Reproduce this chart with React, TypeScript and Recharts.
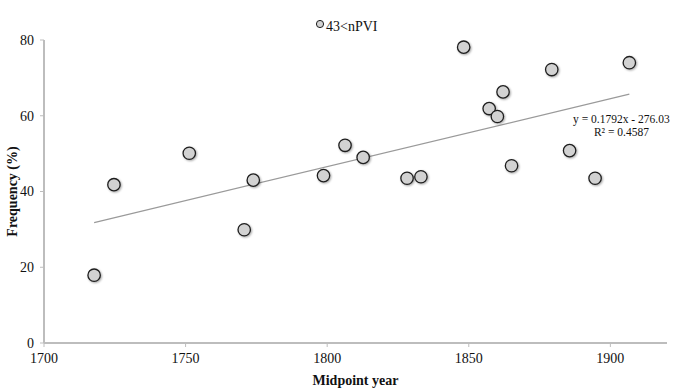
import { ScatterChart, Scatter, XAxis, YAxis, Legend, ReferenceDot, Label } from 'recharts'

// midpoint years and frequencies
const years = [
  1717.7, 1724.7, 1751.3, 1770.7, 1773.9, 1798.7, 1806.3, 1812.7, 1828.2, 1833.1,
  1848.2, 1857.2, 1860.1, 1862.1, 1865.1, 1879.3, 1885.6, 1894.6, 1906.7,
]
const freqs = [
  17.9, 41.8, 50.1, 29.9, 43.0, 44.2, 52.2, 49.0, 43.5, 43.9,
  78.1, 61.9, 59.8, 66.3, 46.8, 72.2, 50.8, 43.5, 74.0,
]

// linear trend as printed in the chart
const trendYears = [1717.7, 1906.7]
const trendFreqs = [31.8, 65.7]
const equation = ['y = 0.1792x - 276.03', 'R² = 0.4587']

const xTicks = [1700, 1750, 1800, 1850, 1900]
const yTicks = [0, 20, 40, 60, 80]

const FONT = 'Georgia, "Liberation Serif", "DejaVu Serif", serif'

const points = years.map((x, i) => ({ x, y: freqs[i] }))
const trend = trendYears.map((x, i) => ({ x, y: trendFreqs[i] }))

function Dot(props: any) {
  const { cx, cy } = props
  return (
    <circle
      cx={cx}
      cy={cy}
      r={6.2}
      fill="#d2d2d2"
      stroke="#1e1e1e"
      strokeWidth={1.3}
      style={{ filter: 'drop-shadow(1px 1px 1px rgba(0,0,0,0.35))' }}
    />
  )
}

function LegendBox() {
  return (
    <div style={{ display: 'flex', alignItems: 'center', fontFamily: FONT, fontSize: 14, color: '#111' }}>
      <svg width={10} height={10} style={{ marginRight: 1, marginTop: -7 }}>
        <circle cx={5} cy={5} r={3.6} fill="#d2d2d2" stroke="#1e1e1e" strokeWidth={1} />
      </svg>
      <span>43&lt;nPVI</span>
    </div>
  )
}

export default function App() {
  return (
    <div style={{ position: 'absolute', left: 0, top: 0, background: '#fff' }}>
      <ScatterChart
        width={691}
        height={390}
        margin={{ top: 40, right: 24, bottom: 17, left: 0 }}
      >
        <XAxis
          type="number"
          dataKey="x"
          domain={[1700, 1920]}
          ticks={xTicks}
          tickSize={4}
          tickMargin={6}
          height={30}
          axisLine={{ stroke: '#bdbdbd', strokeWidth: 2 }}
          tickLine={{ stroke: '#bdbdbd' }}
          tick={{ fill: '#111', fontSize: 14, fontFamily: FONT }}
          allowDataOverflow
        >
          <Label
            content={({ viewBox }: any) => (
              <text
                x={viewBox.x + viewBox.width / 2}
                y={viewBox.y + viewBox.height + 12}
                textAnchor="middle"
                fontFamily={FONT}
                fontSize={14}
                fontWeight="bold"
                fill="#111"
              >
                Midpoint year
              </text>
            )}
          />
        </XAxis>
        <YAxis
          type="number"
          dataKey="y"
          domain={[0, 80]}
          ticks={yTicks}
          width={44}
          tickSize={4}
          tickMargin={6}
          axisLine={{ stroke: '#bdbdbd', strokeWidth: 2 }}
          tickLine={{ stroke: '#bdbdbd' }}
          tick={{ fill: '#111', fontSize: 14, fontFamily: FONT }}
          allowDataOverflow
        >
          <Label
            content={({ viewBox }: any) => {
              const cx = 12
              const cy = viewBox.y + viewBox.height / 2
              return (
                <text
                  x={cx}
                  y={cy}
                  transform={`rotate(-90, ${cx}, ${cy})`}
                  textAnchor="middle"
                  dominantBaseline="central"
                  fontFamily={FONT}
                  fontSize={14}
                  fontWeight="bold"
                  fill="#111"
                >
                  Frequency (%)
                </text>
              )
            }}
          />
        </YAxis>
        <Legend
          layout="horizontal"
          verticalAlign="middle"
          align="center"
          content={() => <LegendBox />}
          wrapperStyle={{ position: 'absolute', top: 19, left: 315, width: 'auto', height: 'auto' }}
        />
        <Scatter
          data={trend}
          line={{ stroke: '#9a9a9a', strokeWidth: 1.2 }}
          shape={() => null}
          legendType="none"
          isAnimationActive={false}
        />
        <Scatter data={points} shape={<Dot />} isAnimationActive={false} />
        <ReferenceDot
          x={1903.9}
          y={59}
          r={0}
          ifOverflow="visible"
          label={({ viewBox }: any) => (
            <text
              x={viewBox.x + viewBox.width / 2}
              y={viewBox.y + viewBox.height / 2}
              textAnchor="middle"
              fontFamily={FONT}
              fontSize={11.5}
              fill="#111"
            >
              <tspan x={viewBox.x + viewBox.width / 2} dy={3}>{equation[0]}</tspan>
              <tspan x={viewBox.x + viewBox.width / 2} dy={13}>{equation[1]}</tspan>
            </text>
          )}
        />
      </ScatterChart>
    </div>
  )
}
